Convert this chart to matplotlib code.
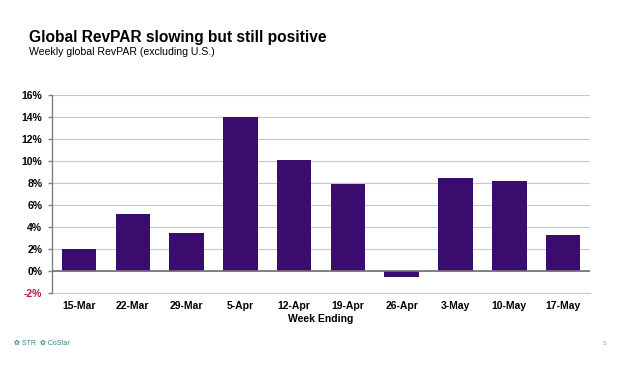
import matplotlib
matplotlib.use("Agg")
import matplotlib.pyplot as plt
import numpy as np

# === DATOS ===
weeks = ["15-Mar", "22-Mar", "29-Mar", "5-Apr", "12-Apr", "19-Apr",
         "26-Apr", "3-May", "10-May", "17-May"]
revpar = [2.0, 5.2, 3.5, 14.0, 10.1, 7.9, -0.55, 8.45, 8.15, 3.25]
yticks = [-2, 0, 2, 4, 6, 8, 10, 12, 14, 16]

plt.rcParams['font.family'] = ['Liberation Sans', 'DejaVu Sans']

fig = plt.figure(figsize=(6.29, 3.67), dpi=100)
ax = fig.add_axes([0.0827, 0.2016, 0.8553, 0.5394])

x = np.arange(len(weeks))
ax.bar(x, revpar, width=0.64, color="#3a0c6e", zorder=3)

ax.set_xlim(-0.5, len(weeks) - 0.5)
ax.set_ylim(-2, 16)
ax.set_yticks(yticks)
ax.set_yticklabels([f"{v}%" for v in yticks], fontsize=7.5, fontweight="bold")
ax.get_yticklabels()[0].set_color("#c0143c")
ax.set_xticks(x)
ax.set_xticklabels(weeks, fontsize=7.5, fontweight="bold")
ax.tick_params(axis="x", length=0, pad=6)
ax.tick_params(axis="y", length=3, width=1, color="#808080", pad=4)

ax.grid(axis="y", color="#c8c8c8", linewidth=0.8, zorder=0)
ax.axhline(-2, color="#c8c8c8", linewidth=0.8, zorder=0, clip_on=False)
ax.axhline(0, color="#707070", linewidth=1.2, zorder=4)
for s in ["top", "right", "bottom"]:
    ax.spines[s].set_visible(False)
ax.spines["left"].set_color("#808080")
ax.spines["left"].set_linewidth(1)

ax.set_xlabel("Week Ending", fontsize=7.5, fontweight="bold", labelpad=2)

# === TEXTOS ===
fig.text(0.046, 0.897, "Global RevPAR slowing but still positive",
         fontsize=11.2, fontweight="bold", va="center")
fig.text(0.046, 0.857, "Weekly global RevPAR (excluding U.S.)",
         fontsize=7.6, va="center")
fig.text(0.022, 0.063, "\u273f STR  \u273f CoStar", fontsize=5, color="#2a8a8a",
         va="center")
fig.text(0.958, 0.063, "5", fontsize=4.5, color="#999999", va="center")

plt.savefig("out.png", dpi=100)
